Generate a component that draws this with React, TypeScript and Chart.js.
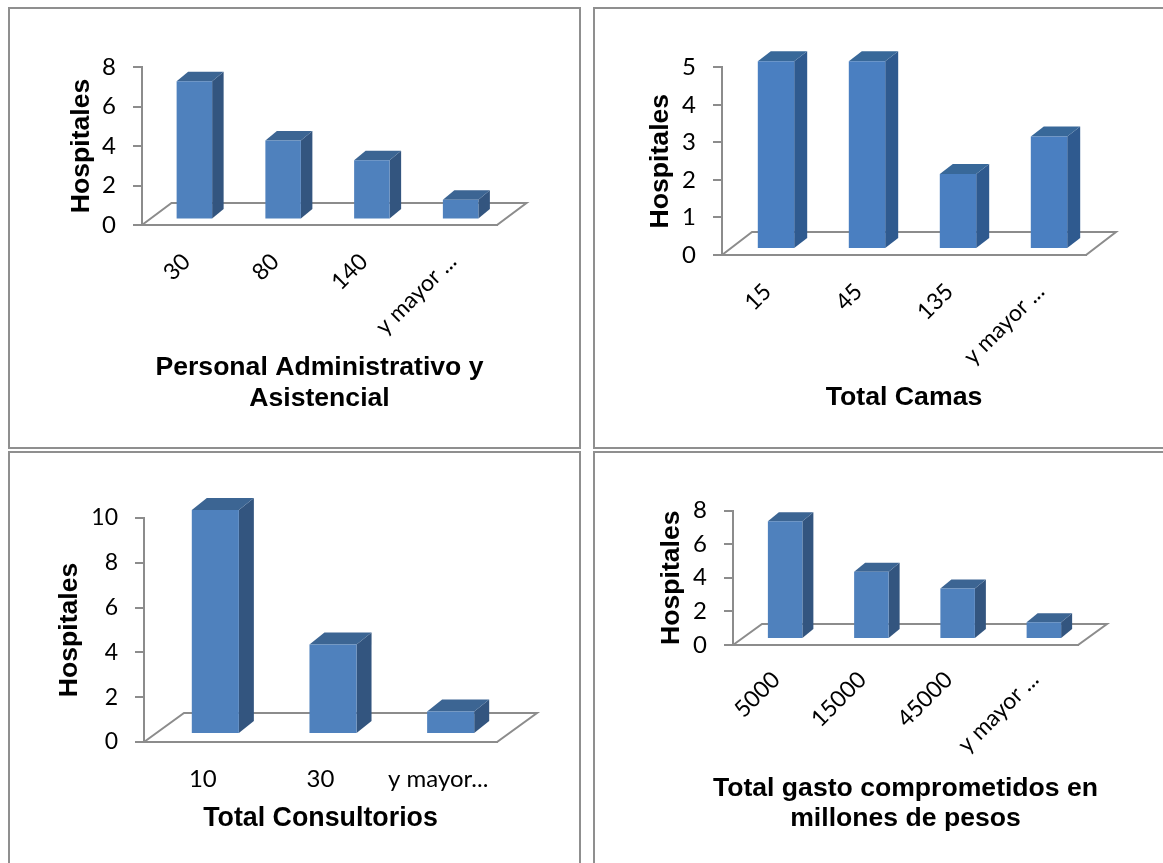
import React, { useEffect, useRef } from "react";
import { Chart, registerables } from "chart.js";

Chart.register(...registerables);

// Values per panel
const staffLabels = ["30", "80", "140", "y mayor ..."];
const staffValues = [7, 4, 3, 1];
const bedLabels = ["15", "45", "135", "y mayor ..."];
const bedValues = [5, 5, 2, 3];
const officeLabels = ["10", "30", "y mayor..."];
const officeValues = [10, 4, 1];
const spendLabels = ["5000", "15000", "45000", "y mayor ..."];
const spendValues = [7, 4, 3, 1];

const FRONT = "#4f81bd";
const SIDE = "#33557f";
const TOP = "#3c6593";
const EDGE = "#a9c1df";
const AXIS = "#8c8c8c";
const FRAME = "#8f8f8f";
const SANS = "'Liberation Sans', Arial, sans-serif";
const TICK_FONT = "Lato, sans-serif";
const Y_TITLE_SIZE = 26.6;
const LINE_RATIO = 1.17;

type Panel = {
  labels: string[];
  values: number[];
  title: string[];
  titleSize: number;
  titleGap: number;
  yMax: number;
  step: number;
  box: { x: number; y: number; w: number; h: number; right: boolean; bottom: boolean };
  area: { left: number; right: number; top: number; bottom: number };
  floor: { dx: number; dy: number };
  shift: { dx: number; dy: number };
  depth: { dx: number; dy: number };
  colors: { front: string; side: string; top: string };
  rotation: number;
  tickSize: number;
  labelSize: number;
  labelPad: number;
  yTitleX: number;
  xTitleY: number;
};

const plain = { front: FRONT, side: SIDE, top: TOP };

const panels: Panel[] = [
  {
    labels: staffLabels,
    values: staffValues,
    title: ["Personal Administrativo y", "Asistencial"],
    titleSize: 26.6,
    titleGap: 31,
    yMax: 8,
    step: 2,
    box: { x: 9, y: 8, w: 569, h: 438, right: true, bottom: true },
    area: { left: 142, right: 497, top: 67, bottom: 225 },
    floor: { dx: 29.5, dy: 22 },
    shift: { dx: 8, dy: 5.5 },
    depth: { dx: 11.5, dy: 9.5 },
    colors: plain,
    rotation: 45,
    tickSize: 24,
    labelSize: 23,
    labelPad: 15,
    yTitleX: 82,
    xTitleY: 368,
  },
  {
    labels: bedLabels,
    values: bedValues,
    title: ["Total Camas"],
    titleSize: 26.7,
    titleGap: 31,
    yMax: 5,
    step: 1,
    box: { x: 594, y: 8, w: 569, h: 438, right: false, bottom: true },
    area: { left: 722, right: 1086, top: 67.3, bottom: 255 },
    floor: { dx: 30, dy: 23 },
    shift: { dx: 8.5, dy: 6 },
    depth: { dx: 13, dy: 10 },
    colors: { front: "#4a7fc1", side: "#2f5a8f", top: "#386899" },
    rotation: 45,
    tickSize: 24,
    labelSize: 23,
    labelPad: 15,
    yTitleX: 661,
    xTitleY: 398,
  },
  {
    labels: officeLabels,
    values: officeValues,
    title: ["Total Consultorios"],
    titleSize: 26.8,
    titleGap: 31,
    yMax: 10,
    step: 2,
    box: { x: 9, y: 452, w: 569, h: 411, right: true, bottom: false },
    area: { left: 144, right: 497, top: 518, bottom: 742 },
    floor: { dx: 40, dy: 29 },
    shift: { dx: 12.5, dy: 8 },
    depth: { dx: 15, dy: 12 },
    colors: plain,
    rotation: 0,
    tickSize: 23,
    labelSize: 24,
    labelPad: 15,
    yTitleX: 70,
    xTitleY: 819,
  },
  {
    labels: spendLabels,
    values: spendValues,
    title: ["Total gasto comprometidos en", "millones de pesos"],
    titleSize: 26.6,
    titleGap: 30,
    yMax: 8,
    step: 2,
    box: { x: 594, y: 452, w: 569, h: 411, right: false, bottom: false },
    area: { left: 733, right: 1078, top: 510.5, bottom: 645 },
    floor: { dx: 29, dy: 21 },
    shift: { dx: 9, dy: 6 },
    depth: { dx: 11, dy: 9 },
    colors: plain,
    rotation: 45,
    tickSize: 24,
    labelSize: 23,
    labelPad: 13,
    yTitleX: 671.5,
    xTitleY: 789,
  },
];

// Draws the floor and the extruded faces, and offsets the bar fronts into the depth of the floor.
const extrudedBars = {
  id: "extrudedBars",
  beforeDatasetsDraw(chart: any, _args: any, opts: any) {
    const { ctx, chartArea: a } = chart;
    const { floor, shift, depth, colors } = opts;
    ctx.save();
    ctx.strokeStyle = AXIS;
    ctx.lineWidth = 2;
    ctx.beginPath();
    ctx.moveTo(a.left, a.bottom);
    ctx.lineTo(a.left + floor.dx, a.bottom - floor.dy);
    ctx.lineTo(a.right + floor.dx, a.bottom - floor.dy);
    ctx.lineTo(a.right, a.bottom);
    ctx.closePath();
    ctx.stroke();
    ctx.translate(shift.dx, -shift.dy);
    for (const bar of chart.getDatasetMeta(0).data) {
      const { x, y, base, width } = bar.getProps(["x", "y", "base", "width"], true);
      const r = x + width / 2;
      const l = x - width / 2;
      ctx.fillStyle = colors.side;
      ctx.beginPath();
      ctx.moveTo(r, y);
      ctx.lineTo(r + depth.dx, y - depth.dy);
      ctx.lineTo(r + depth.dx, base - depth.dy);
      ctx.lineTo(r, base);
      ctx.closePath();
      ctx.fill();
      ctx.fillStyle = colors.top;
      ctx.beginPath();
      ctx.moveTo(l, y);
      ctx.lineTo(l + depth.dx, y - depth.dy);
      ctx.lineTo(r + depth.dx, y - depth.dy);
      ctx.lineTo(r, y);
      ctx.closePath();
      ctx.fill();
    }
  },
  afterDatasetsDraw(chart: any) {
    chart.ctx.restore();
  },
};

// The category caption may run wider than the plot, so it is drawn without a width limit.
const categoryCaption = {
  id: "categoryCaption",
  afterDraw(chart: any, _args: any, opts: any) {
    const { ctx, chartArea: a } = chart;
    ctx.save();
    ctx.fillStyle = "#000";
    ctx.font = `bold ${opts.size}px ${SANS}`;
    ctx.textAlign = "center";
    ctx.textBaseline = "middle";
    opts.lines.forEach((line: string, i: number) => {
      ctx.fillText(line, (a.left + a.right) / 2, opts.y + i * opts.gap);
    });
    ctx.restore();
  },
};

function PanelChart({ panel }: { panel: Panel }) {
  const ref = useRef<HTMLCanvasElement | null>(null);
  useEffect(() => {
    const { box, area } = panel;
    const yTitleLine = Y_TITLE_SIZE * LINE_RATIO;
    const chart = new Chart(ref.current as HTMLCanvasElement, {
      type: "bar",
      plugins: [extrudedBars, categoryCaption],
      data: {
        labels: panel.labels,
        datasets: [
          {
            data: panel.values,
            backgroundColor: panel.colors.front,
            borderColor: EDGE,
            borderWidth: { bottom: 1, left: 0, right: 0, top: 0 },
            barPercentage: 0.4,
            categoryPercentage: 1,
            clip: false,
          },
        ],
      },
      options: {
        responsive: false,
        animation: false,
        layout: {
          padding: {
            left: 0,
            bottom: 0,
            top: area.top - box.y,
            right: box.x + box.w - area.right,
          },
        },
        plugins: {
          legend: { display: false },
          tooltip: { enabled: false },
          extrudedBars: {
            floor: panel.floor,
            shift: panel.shift,
            depth: panel.depth,
            colors: panel.colors,
          },
          categoryCaption: {
            lines: panel.title,
            size: panel.titleSize,
            gap: panel.titleGap,
            y: panel.xTitleY - box.y,
          },
        } as any,
        scales: {
          x: {
            grid: { display: false },
            border: { display: true, color: AXIS, width: 2 },
            afterFit: (s: any) => {
              s.height = box.y + box.h - area.bottom;
            },
            ticks: {
              autoSkip: false,
              minRotation: panel.rotation,
              maxRotation: panel.rotation,
              padding: panel.labelPad,
              color: "#000",
              font: { family: TICK_FONT, size: panel.labelSize },
            },
          },
          y: {
            min: 0,
            max: panel.yMax,
            afterFit: (s: any) => {
              s.width = area.left - box.x;
            },
            grid: { drawOnChartArea: false, color: AXIS, tickLength: 9, lineWidth: 2 },
            border: { color: AXIS, width: 2 },
            ticks: {
              stepSize: panel.step,
              padding: 17,
              color: "#000",
              font: { family: TICK_FONT, size: panel.tickSize },
            },
            title: {
              display: true,
              text: "Hospitales",
              color: "#000",
              font: { family: SANS, size: Y_TITLE_SIZE, weight: "bold", lineHeight: LINE_RATIO },
              padding: { top: panel.yTitleX - box.x - yTitleLine / 2, bottom: 0 },
            },
          },
        },
      },
    });
    return () => chart.destroy();
  }, [panel]);

  const { box } = panel;
  return (
    <canvas
      ref={ref}
      width={box.w}
      height={box.h}
      style={{ position: "absolute", left: box.x, top: box.y, width: box.w, height: box.h }}
    />
  );
}

export default function App() {
  return (
    <div
      style={{
        position: "absolute",
        left: 0,
        top: 0,
        width: 1163,
        height: 863,
        overflow: "hidden",
        background: "#fff",
      }}
    >
      {panels.map((p, i) => (
        <React.Fragment key={i}>
          <div
            style={{
              position: "absolute",
              left: p.box.x - 1,
              top: p.box.y - 1,
              width: p.box.w,
              height: p.box.h,
              borderLeft: `2px solid ${FRAME}`,
              borderTop: `2px solid ${FRAME}`,
              borderRight: p.box.right ? `2px solid ${FRAME}` : "none",
              borderBottom: p.box.bottom ? `2px solid ${FRAME}` : "none",
            }}
          />
          <PanelChart panel={p} />
        </React.Fragment>
      ))}
    </div>
  );
}
